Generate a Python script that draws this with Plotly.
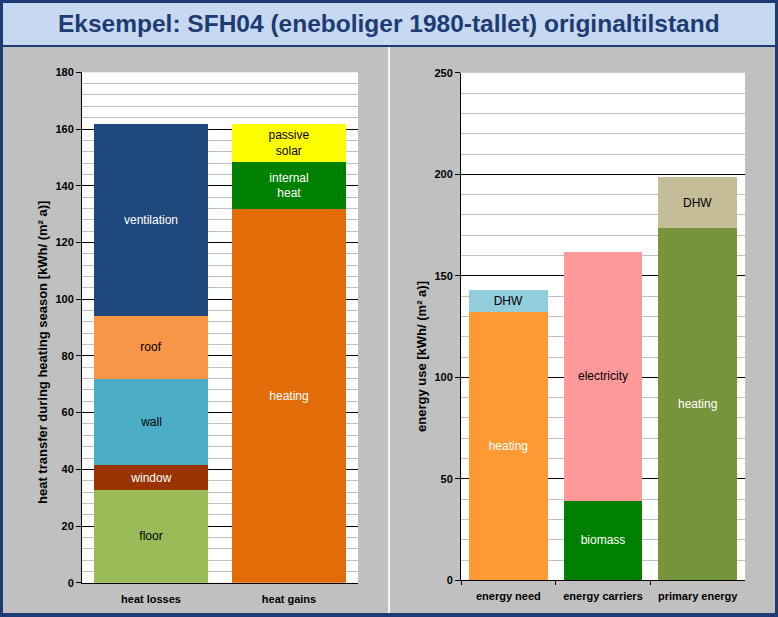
import plotly.graph_objects as go

# ---- data (kWh / (m² a)) ----
left_cats = ["heat losses", "heat gains"]
loss_names = ["floor", "window", "wall", "roof", "ventilation"]
loss_values = [32.7, 8.8, 30.5, 22.1, 67.7]
loss_colors = ["#9BBB59", "#993300", "#4BACC6", "#F79646", "#1F497D"]
loss_text_colors = ["#000000", "#FFFFFF", "#000000", "#000000", "#FFFFFF"]

gain_names = ["heating", "internal<br>heat", "passive<br>solar"]
gain_values = [131.7, 16.8, 13.3]
gain_colors = ["#E36C09", "#008000", "#FFFF00"]
gain_text_colors = ["#FFFFFF", "#FFFFFF", "#000000"]

right_cats = ["energy need", "energy carriers", "primary energy"]
# (label, value, colour, text colour) per stacked segment
need_segments = [("heating", 132.4, "#FF9933", "#FFFFFF"), ("DHW", 10.4, "#92CDDC", "#000000")]
carrier_segments = [("biomass", 39.3, "#008000", "#FFFFFF"), ("electricity", 122.2, "#FF9999", "#000000")]
primary_segments = [("heating", 173.5, "#77933C", "#FFFFFF"), ("DHW", 25.2, "#C4BD97", "#000000")]

W, H = 778, 617
FONT = "Liberation Sans, Arial, sans-serif"
NAVY = "#1F3B73"
GREY = "#C0C0C0"


def px(x):
    return x / W


def py(y):
    return 1 - y / H


fig = go.Figure()

for name, val, col, tcol in zip(loss_names, loss_values, loss_colors, loss_text_colors):
    fig.add_trace(go.Bar(x=[left_cats[0]], y=[val], name=name, text=[name],
                         marker=dict(color=col, line_width=0), textfont=dict(color=tcol),
                         xaxis="x", yaxis="y"))
for name, val, col, tcol in zip(gain_names, gain_values, gain_colors, gain_text_colors):
    fig.add_trace(go.Bar(x=[left_cats[1]], y=[val], name=name, text=[name],
                         marker=dict(color=col, line_width=0), textfont=dict(color=tcol),
                         xaxis="x", yaxis="y"))

for cat, segs in zip(right_cats, [need_segments, carrier_segments, primary_segments]):
    for name, val, col, tcol in segs:
        fig.add_trace(go.Bar(x=[cat], y=[val], name=name, text=[name],
                             marker=dict(color=col, line_width=0), textfont=dict(color=tcol),
                             xaxis="x2", yaxis="y2"))

fig.update_traces(textposition="inside", insidetextanchor="middle", textangle=0,
                  constraintext="none", showlegend=False, hoverinfo="skip",
                  selector=dict(type="bar"))
fig.update_traces(textfont=dict(family=FONT, size=12))

axis_common = dict(showline=True, linecolor="black", linewidth=1, automargin=False,
                   tickfont=dict(family=FONT, size=11, color="black", weight="bold"))
yaxis_common = dict(axis_common, ticks="outside", ticklen=5, tickcolor="black",
                    showgrid=True, gridcolor="black", gridwidth=1, zeroline=False)

fig.update_layout(
    width=W, height=H,
    margin=dict(l=0, r=0, t=0, b=0),
    paper_bgcolor=GREY,
    plot_bgcolor="white",
    barmode="stack",
    bargap=0.167,
    font=dict(family=FONT, size=11, color="black"),
    xaxis=dict(axis_common, domain=[px(82), px(358)], anchor="y", ticks="",
               ticklabelstandoff=6, categoryorder="array", categoryarray=left_cats),
    yaxis=dict(yaxis_common, domain=[py(582.8), py(72.3)], anchor="x", range=[0, 180],
               dtick=20, minor=dict(dtick=4, showgrid=True, gridcolor="#BFBFBF", gridwidth=1)),
    xaxis2=dict(axis_common, domain=[px(461), px(745)], anchor="y2", ticks="outside",
                tickson="boundaries", ticklen=4, tickcolor="black", ticklabelstandoff=5,
                categoryorder="array", categoryarray=right_cats),
    yaxis2=dict(yaxis_common, domain=[py(580.3), py(72.8)], anchor="x2", range=[0, 250],
                dtick=50, minor=dict(dtick=10, showgrid=True, gridcolor="#BFBFBF", gridwidth=1)),
)

# frame: navy border strips, title band, white separator between the two panels
frame = [
    (0, 778, 0, 3, NAVY), (0, 3, 0, 617, NAVY), (775, 778, 0, 617, NAVY),
    (0, 778, 613, 617, NAVY), (0, 778, 45, 47, NAVY),
    (3, 775, 3, 45, "#C6D9F1"), (388, 390, 47, 613, "#F2F2F2"),
]
for x0, x1, y0, y1, col in frame:
    fig.add_shape(type="rect", xref="paper", yref="paper", x0=px(x0), x1=px(x1),
                  y0=py(y1), y1=py(y0), fillcolor=col, line_width=0, layer="below")

fig.add_annotation(text="Eksempel: SFH04 (eneboliger 1980-tallet) originaltilstand",
                   xref="paper", yref="paper", x=0.5, y=py(24), xanchor="center", yanchor="middle",
                   showarrow=False, font=dict(family=FONT, size=24.5, color=NAVY, weight="bold"))

# axis titles placed like the original (slightly below the axis centre)
axis_font = dict(family=FONT, size=13, color="black", weight="bold")
fig.add_annotation(text="heat transfer during heating season [kWh/ (m² a)]",
                   xref="paper", yref="paper", x=px(42), y=py(353), textangle=-90,
                   xanchor="center", yanchor="middle", showarrow=False, font=axis_font)
fig.add_annotation(text="energy use [kWh/ (m² a)]",
                   xref="paper", yref="paper", x=px(421), y=py(356), textangle=-90,
                   xanchor="center", yanchor="middle", showarrow=False, font=axis_font)

fig.write_html("out.html", config={"displayModeBar": False},
               post_script="document.body.style.margin='0';")
